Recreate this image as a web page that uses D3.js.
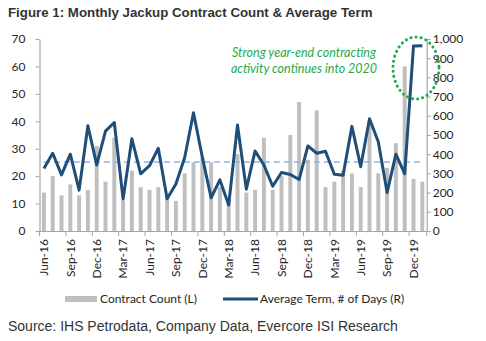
<!DOCTYPE html>
<html>
<head>
<meta charset="utf-8">
<script src="https://cdn.jsdelivr.net/npm/d3@7"></script>
<style>
  body { margin: 0; background: #fff; }
  svg text { font-family: Lato, "Open Sans", sans-serif; fill: #262626; }
</style>
</head>
<body>
<div id="chart"></div>
<script>
"use strict";

// monthly categories
var months = ["Jun-16","Jul-16","Aug-16","Sep-16","Oct-16","Nov-16","Dec-16",
  "Jan-17","Feb-17","Mar-17","Apr-17","May-17","Jun-17","Jul-17","Aug-17","Sep-17","Oct-17","Nov-17","Dec-17",
  "Jan-18","Feb-18","Mar-18","Apr-18","May-18","Jun-18","Jul-18","Aug-18","Sep-18","Oct-18","Nov-18","Dec-18",
  "Jan-19","Feb-19","Mar-19","Apr-19","May-19","Jun-19","Jul-19","Aug-19","Sep-19","Oct-19","Nov-19","Dec-19",
  "Jan-20"];

// contract count (L)
var contractCount = [14,20,13,17,13,15,31,18,34,11,22,16,15,16,13,11,21,25,27,
  25,16,12,28,14,15,34,15,20,35,47,26,44,16,18,22,21,16,40,21,23,32,60,19,18];

// average term, # of days (R)
var averageTerm = [325,405,292,400,213,548,344,520,565,166,480,298,340,431,168,245,383,616,385,
  173,266,135,552,218,417,344,233,305,294,268,443,405,415,296,290,545,335,585,465,200,400,298,964,965];

var avgTerm = 360;
var leftTicks = [0,10,20,30,40,50,60,70];
var rightTicks = [0,100,200,300,400,500,600,700,800,900,1000];

var W = 486, H = 341;
var svg = d3.select('#chart').append('svg')
    .attr('width', W).attr('height', H);

var x = d3.scaleBand().domain(months).range([39.5, 426.7])
    .paddingInner(0.55).paddingOuter(0.275);
var yL = d3.scaleLinear().domain([0, 70]).range([231, 39]);
var yR = d3.scaleLinear().domain([0, 1000]).range([231, 39]);
var cx = function (m) { return x(m) + x.bandwidth() / 2; };

// title
svg.append('text').attr('x', 8).attr('y', 17)
    .style('font-family', '"Liberation Sans", Arial, sans-serif')
    .style('font-weight', 'bold').style('font-size', '13.3px').style('fill', '#333')
    .text('Figure 1: Monthly Jackup Contract Count & Average Term');

// bars
svg.append('g').selectAll('rect').data(months).enter().append('rect')
    .attr('x', function (d) { return x(d); })
    .attr('width', x.bandwidth())
    .attr('y', function (d, i) { return yL(contractCount[i]); })
    .attr('height', function (d, i) { return yL(0) - yL(contractCount[i]); })
    .attr('fill', '#BFBFBF');

// average dashed line
svg.append('line')
    .attr('x1', cx(months[0])).attr('x2', x(months[months.length - 1]))
    .attr('y1', yR(avgTerm)).attr('y2', yR(avgTerm))
    .attr('stroke', '#8DB4E2').attr('stroke-width', 1.5)
    .attr('stroke-dasharray', '6,4');

// term line
var line = d3.line()
    .x(function (d, i) { return cx(months[i]); })
    .y(function (d) { return yR(d); });
svg.append('path').datum(averageTerm)
    .attr('d', line)
    .attr('fill', 'none')
    .attr('stroke', '#1F4E79')
    .attr('stroke-width', 3)
    .attr('stroke-linejoin', 'round');

// axes
var axisColor = '#A6A6A6';
var gL = svg.append('g').attr('transform', 'translate(39.5,0)')
    .call(d3.axisLeft(yL).tickValues(leftTicks).tickSize(4).tickSizeOuter(0));
var gR = svg.append('g').attr('transform', 'translate(426.7,0)')
    .call(d3.axisRight(yR).tickValues(rightTicks).tickSize(4).tickSizeOuter(0).tickFormat(d3.format(',')));
var gX = svg.append('g').attr('transform', 'translate(0,231)')
    .call(d3.axisBottom(x).tickValues(months.filter(function (d, i) { return i % 3 === 0; }))
        .tickSize(0).tickSizeOuter(0));

[gL, gR, gX].forEach(function (g) {
    g.select('.domain').attr('stroke', axisColor).attr('stroke-width', 1.2);
    g.selectAll('.tick line').attr('stroke', axisColor);
    g.selectAll('.tick text').style('font-size', '12px').style('fill', '#262626');
});
gL.selectAll('.tick text').attr('x', -14);
gR.selectAll('.tick text').attr('x', 6);
gX.select('.domain').attr('d', 'M39.5,0.5H426.7');
gX.selectAll('.tick text')
    .attr('transform', 'rotate(-90)')
    .attr('x', -8).attr('y', 0).attr('dy', '0.35em')
    .style('text-anchor', 'end');

// x tick marks at category boundaries, every 3 months
svg.append('g').selectAll('line')
    .data(months.filter(function (d, i) { return i % 3 === 0; }).concat([null]))
    .enter().append('line')
    .attr('x1', function (d) { return d ? x(d) - x.step() * x.paddingOuter() : 426.7; })
    .attr('x2', function (d) { return d ? x(d) - x.step() * x.paddingOuter() : 426.7; })
    .attr('y1', 231).attr('y2', 236)
    .attr('stroke', axisColor);

// annotation
var note = svg.append('text')
    .attr('x', 304).attr('y', 57)
    .style('text-anchor', 'middle').style('font-style', 'italic')
    .style('font-size', '12.5px').style('fill', '#1FA94F');
note.append('tspan').attr('x', 304).text('Strong year-end contracting');
note.append('tspan').attr('x', 304).attr('dy', 16).text('activity continues into 2020');

svg.append('ellipse')
    .attr('cx', 416).attr('cy', 68).attr('rx', 23).attr('ry', 31)
    .attr('fill', 'none').attr('stroke', '#1FA94F').attr('stroke-width', 3)
    .attr('stroke-linecap', 'round').attr('stroke-dasharray', '0.1,5');

// legend
var lg = svg.append('g');
lg.append('rect').attr('x', 65).attr('y', 296).attr('width', 32).attr('height', 6).attr('fill', '#BFBFBF');
lg.append('text').attr('x', 100).attr('y', 303).style('font-size', '12px').text('Contract Count (L)');
lg.append('line').attr('x1', 223).attr('x2', 258).attr('y1', 299).attr('y2', 299)
    .attr('stroke', '#1F4E79').attr('stroke-width', 3);
lg.append('text').attr('x', 260).attr('y', 303).style('font-size', '12px').text('Average Term, # of Days (R)');

// source
svg.append('text').attr('x', 8).attr('y', 331)
    .style('font-family', '"Liberation Sans", Arial, sans-serif')
    .style('font-size', '14px').style('fill', '#333')
    .text('Source: IHS Petrodata, Company Data, Evercore ISI Research');
</script>
</body>
</html>
